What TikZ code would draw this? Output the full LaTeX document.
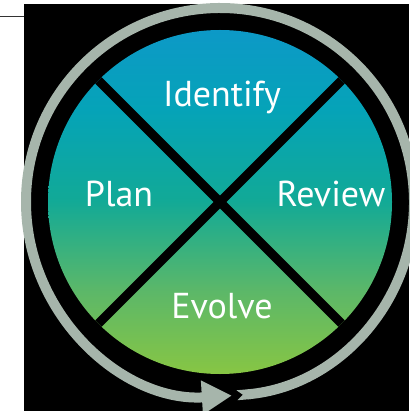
\documentclass[tikz,border=0pt]{standalone}
\usepackage{fontspec}
\setmainfont{PT Sans}
\usetikzlibrary{arrows.meta}

\newlength{\du}
\setlength{\du}{1pt}

\definecolor{ringcolor}{rgb}{0.650000, 0.710000, 0.670000}
\definecolor{shadetop}{rgb}{0.050000, 0.600000, 0.780000}
\definecolor{shadeupper}{rgb}{0.020000, 0.640000, 0.720000}
\definecolor{shademid}{rgb}{0.070000, 0.665000, 0.590000}
\definecolor{shadelower}{rgb}{0.360000, 0.720000, 0.410000}
\definecolor{shadebottom}{rgb}{0.530000, 0.775000, 0.265000}
\definecolor{rulecolor}{rgb}{0.200000, 0.200000, 0.200000}

\pgfdeclareverticalshading{discshade}{100bp}{color(0bp)=(shadebottom); color(25bp)=(shadebottom); color(37.1bp)=(shadelower); color(50.2bp)=(shademid); color(63.3bp)=(shadeupper); color(75bp)=(shadetop); color(100bp)=(shadetop)}

\tikzset{phasetext/.style={text=white, font=\fontsize{36}{40}\selectfont, inner sep=0pt, anchor=base}}

\begin{document}
\begin{tikzpicture}
\pgftransformxscale{1.000000}
\pgftransformyscale{-1.000000}
\useasboundingbox (0\du,0\du) rectangle (409\du,411\du);
% background
\fill[black] (24\du,4\du) rectangle (409\du,411\du);
\draw[rulecolor, line width=1.5\du] (0\du,16.700000\du)--(24\du,16.700000\du);
% disc
\coordinate (hub) at (220\du,202\du);
\shade[shading=discshade] (hub) circle (172\du);
\draw[black, line width=9\du] (98.400000\du,80.400000\du)--(341.600000\du,323.600000\du);
\draw[black, line width=9\du] (341.600000\du,80.400000\du)--(98.400000\du,323.600000\du);
% ring with arrow
\draw[ringcolor, line width=10\du, {Triangle Cap[reversed,length=6pt]}-{Triangle[length=30pt,width=32pt]}] (hub) ++(85:194\du) arc[start angle=85, end angle=-273.5, radius=194\du];
% labels
\node[phasetext] (identify) at (222\du,107\du) {Identify};
\node[phasetext] (plan) at (119\du,207\du) {Plan};
\node[phasetext] (review) at (331\du,207\du) {Review};
\node[phasetext] (evolve) at (222\du,318\du) {Evolve};
\end{tikzpicture}
\end{document}
